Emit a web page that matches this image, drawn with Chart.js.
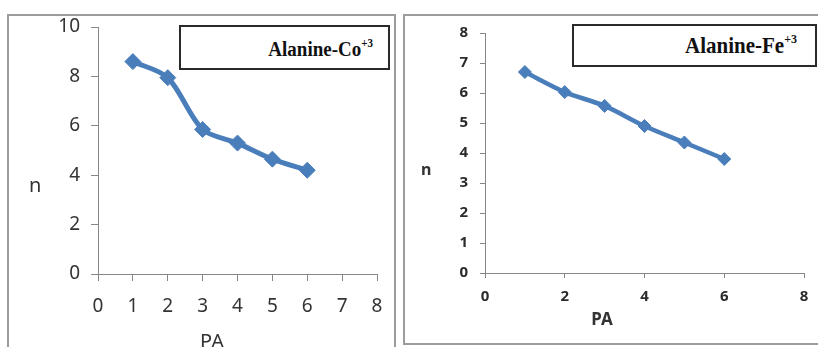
<!DOCTYPE html>
<html>
<head>
<meta charset="utf-8">
<script src="https://cdn.jsdelivr.net/npm/chart.js@4.4.1/dist/chart.umd.min.js"></script>
<style>
  html, body { margin:0; padding:0; background:#fff; }
  body { width:818px; height:347px; position:relative; overflow:hidden; }
  .panel { position:absolute; box-sizing:border-box; border:2px solid #9c9c9c; background:#fff; }
  canvas { position:absolute; }
  .lbox { position:absolute; box-sizing:border-box; border:2px solid #2a2a2a; background:#fff; }
  .ltxt { position:absolute; font-family:"Liberation Serif","Times New Roman",serif; font-weight:bold; color:#111; line-height:1; white-space:nowrap; transform-origin:100% 80%; transform:scaleY(1.12); }
  .ltxt span { position:relative; }
  .atitle { position:absolute; font-family:"Noto Sans",sans-serif; color:#333; white-space:nowrap; }
</style>
</head>
<body>
<div class="panel" style="left:7px;top:14px;width:389px;height:345px;"></div>
<div class="panel" style="left:403px;top:14px;width:420px;height:331px;"></div>

<canvas id="c1" width="385" height="331" style="left:9px;top:16px;"></canvas>
<canvas id="c2" width="411" height="326" style="left:407px;top:16px;"></canvas>

<div class="lbox" style="left:179px;top:25px;width:211px;height:45px;"></div>
<div class="ltxt" style="right:445px;top:40px;font-size:19px;">Alanine-Co<span style="font-size:11px;top:-8px;">+3</span></div>

<div class="lbox" style="left:572px;top:24px;width:245px;height:43px;"></div>
<div class="ltxt" style="right:21px;top:36px;font-size:21px;">Alanine-Fe<span style="font-size:12px;top:-9px;">+3</span></div>

<div class="atitle" style="left:29px;top:175px;font-size:20px;line-height:20px;">n</div>
<div class="atitle" style="left:212px;top:331px;font-size:20px;line-height:20px;transform:translateX(-50%);">PA</div>
<div class="atitle" style="left:421px;top:161px;font-size:16px;line-height:16px;font-weight:bold;">n</div>
<div class="atitle" style="left:602px;top:310px;font-size:17px;line-height:17px;font-weight:bold;transform:translateX(-50%);">PA</div>

<script>
// ---- data ----
const paValues = [1, 2, 3, 4, 5, 6];
const coN = [8.6, 7.95, 5.85, 5.3, 4.65, 4.2];
const feN = [6.7, 6.03, 5.57, 4.9, 4.35, 3.8];
const coXTicks = [0, 1, 2, 3, 4, 5, 6, 7, 8];
const coYTicks = [0, 2, 4, 6, 8, 10];
const feXTicks = [0, 2, 4, 6, 8];
const feYTicks = [0, 1, 2, 3, 4, 5, 6, 7, 8];

const blue = '#4a7ebb';
const axisGray = '#868686';

function makeChart(id, ys, xt, yt, cfg) {
  const pts = paValues.map((x, i) => ({ x: x, y: ys[i] }));
  return new Chart(document.getElementById(id), {
    type: 'line',
    data: { datasets: [{
      data: pts,
      borderColor: blue,
      backgroundColor: blue,
      borderWidth: cfg.lw,
      pointStyle: 'rectRot',
      pointRadius: cfg.pr,
      pointBackgroundColor: blue,
      pointBorderColor: blue,
      pointBorderWidth: 1,
      tension: 0.3,
      fill: false
    }]},
    options: {
      responsive: false,
      animation: false,
      events: [],
      layout: { padding: cfg.pad },
      plugins: { legend: { display: false }, tooltip: { enabled: false }, title: { display: false } },
      scales: {
        x: {
          type: 'linear',
          min: xt[0], max: xt[xt.length - 1],
          afterBuildTicks: s => { s.ticks = xt.map(v => ({ value: v })); },
          afterFit: s => { s.height = cfg.xh; s.paddingLeft = 0; s.paddingRight = 0; },
          grid: { drawOnChartArea: false, drawTicks: true, tickLength: cfg.tl, color: axisGray, tickColor: axisGray },
          border: { display: true, color: axisGray, width: 1 },
          ticks: { padding: cfg.xpad, color: cfg.tc, font: cfg.font, maxRotation: 0, autoSkip: false }
        },
        y: {
          type: 'linear',
          min: yt[0], max: yt[yt.length - 1],
          afterBuildTicks: s => { s.ticks = yt.map(v => ({ value: v })); },
          afterFit: s => { s.width = cfg.yw; s.paddingTop = 0; s.paddingBottom = 0; },
          grid: { drawOnChartArea: false, drawTicks: true, tickLength: cfg.tl, color: axisGray, tickColor: axisGray },
          border: { display: true, color: axisGray, width: 1 },
          ticks: { padding: cfg.ypad, color: cfg.tc, font: cfg.font, autoSkip: false }
        }
      }
    }
  });
}

makeChart('c1', coN, coXTicks, coYTicks, {
  lw: 5, pr: 8, pad: { top: 11, right: 17, left: 0, bottom: 0 },
  xh: 73, yw: 89, tl: 7, xpad: 14, ypad: 11, tc: '#333',
  font: { family: 'Noto Sans', size: 19, weight: 'normal' }
});
makeChart('c2', feN, feXTicks, feYTicks, {
  lw: 4.5, pr: 6.5, pad: { top: 17, right: 14, left: 0, bottom: 0 },
  xh: 69, yw: 78, tl: 5, xpad: 10, ypad: 12, tc: '#2b2b2b',
  font: { family: 'Noto Sans', size: 15, weight: 'bold' }
});
</script>
</body>
</html>
